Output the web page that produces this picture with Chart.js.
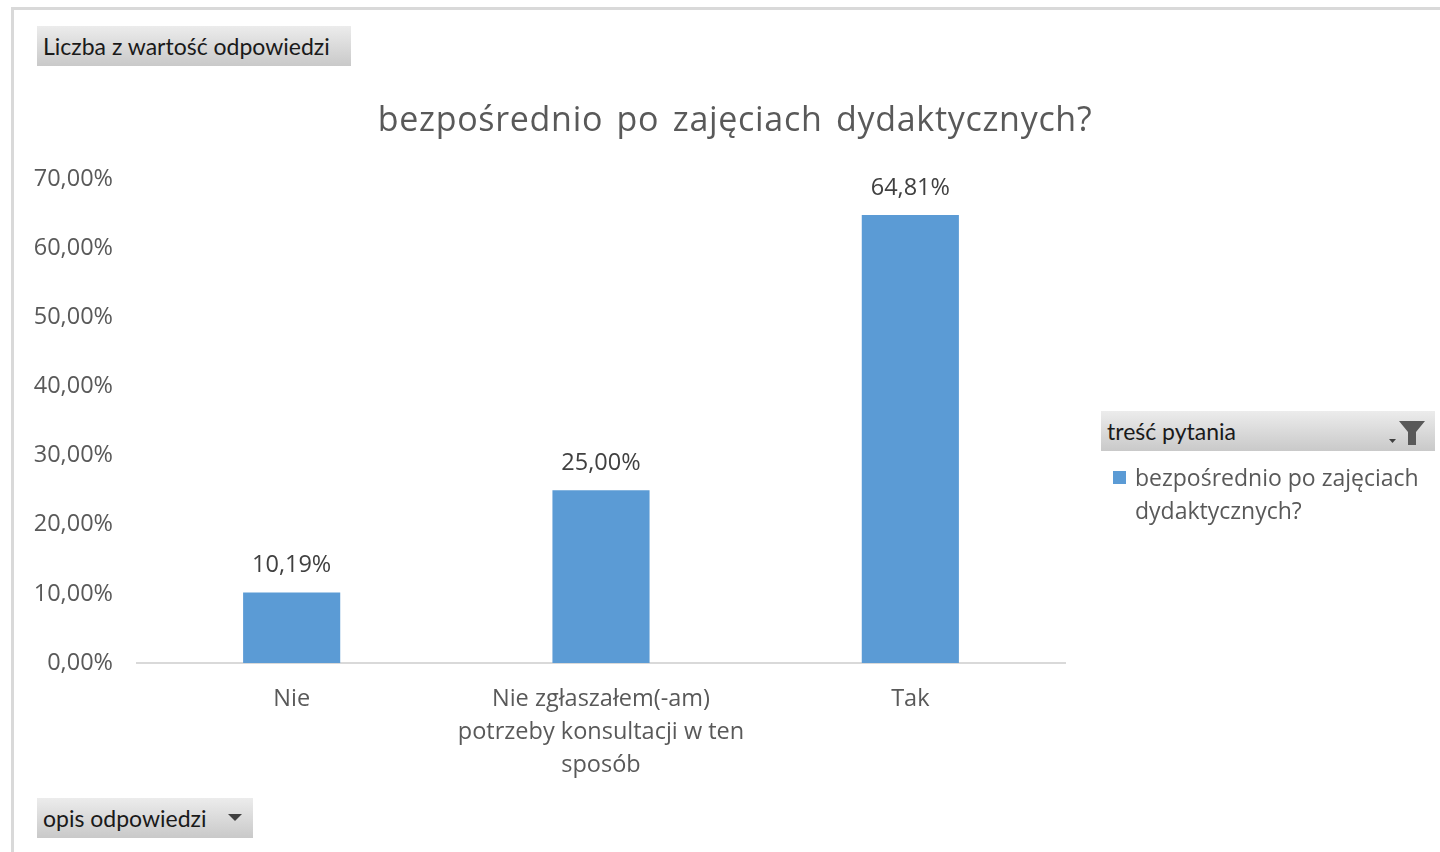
<!DOCTYPE html>
<html>
<head>
<meta charset="utf-8">
<script src="https://cdn.jsdelivr.net/npm/chart.js@4"></script>
<style>
  html, body { margin: 0; padding: 0; background: #fff; }
  body { width: 1440px; height: 852px; position: relative; overflow: hidden; font-family: "Open Sans", sans-serif; }
  #frame { position: absolute; left: 11px; top: 7px; right: -10px; bottom: -10px; border-left: 3px solid #d9d9d9; border-top: 3px solid #d9d9d9; }
  canvas { position: absolute; left: 0; top: 0; }
  .btn { position: absolute; height: 40px; box-sizing: border-box; background: linear-gradient(#ececec, #c9c9c9); color: #1a1a1a; font-family: Lato, sans-serif; font-size: 23px; line-height: 40px; padding-left: 6px; }
  .title { position: absolute; left: 0; width: 1470px; top: 94px; text-align: center; color: #595959; font-size: 34px; letter-spacing: 0.7px; word-spacing: 4px; line-height: 48px; }
  .legend { position: absolute; left: 1113px; top: 461px; color: #595959; font-size: 23px; line-height: 33px; }
  .legend .sw { position: absolute; left: 0; top: 10px; width: 13px; height: 13px; background: #5b9bd5; }
  .legend .tx { position: absolute; left: 22px; top: 0; white-space: nowrap; }
</style>
</head>
<body>
<div id="frame"></div>
<canvas id="c" width="1440" height="852"></canvas>
<div class="title">bezpośrednio po zajęciach dydaktycznych?</div>
<div class="btn" style="left:37px;top:26px;width:314px;">Liczba z wartość odpowiedzi</div>
<div class="btn" style="left:37px;top:798px;width:216px;">opis odpowiedzi
  <svg style="position:absolute;left:191px;top:16px" width="14" height="8"><polygon points="0,0 14,0 7,7" fill="#404040"/></svg>
</div>
<div class="btn" style="left:1101px;top:411px;width:334px;">treść pytania
  <svg style="position:absolute;left:286px;top:8px" width="42" height="28">
    <polygon points="2,20 9,20 5.5,24" fill="#404040"/>
    <polygon points="12,2 38,2 29,13 29,26 21,26 21,13" fill="#595959"/>
  </svg>
</div>
<div class="legend"><div class="sw"></div><div class="tx">bezpośrednio po zajęciach<br>dydaktycznych?</div></div>
<script>
const categories = ['Nie', ['Nie zgłaszałem(-am)', 'potrzeby konsultacji w ten', 'sposób'], 'Tak'];
const values = [10.19, 25.00, 64.81];
const seriesName = 'bezpośrednio po zajęciach dydaktycznych?';

const fmt = v => v.toFixed(2).replace('.', ',') + '%';

// value labels above each bar
const valueLabels = {
  id: 'valueLabels',
  afterDatasetsDraw(chart) {
    const ctx = chart.ctx;
    const meta = chart.getDatasetMeta(0);
    ctx.save();
    ctx.fillStyle = '#404040';
    ctx.font = '23.5px "Open Sans"';
    ctx.textAlign = 'center';
    ctx.textBaseline = 'middle';
    meta.data.forEach((bar, i) => {
      ctx.fillText(fmt(values[i]), bar.x, bar.y - 27);
    });
    ctx.restore();
  }
};

new Chart(document.getElementById('c'), {
  type: 'bar',
  data: {
    labels: categories,
    datasets: [{
      label: seriesName,
      data: values,
      backgroundColor: '#5b9bd5',
      categoryPercentage: 1,
      barPercentage: 0.314,
    }],
  },
  options: {
    responsive: false,
    animation: false,
    layout: { padding: { left: 0, right: 375, top: 179, bottom: 0 } },
    plugins: {
      legend: { display: false },
      tooltip: { enabled: false },
    },
    scales: {
      x: {
        grid: { display: false, drawTicks: false },
        border: { color: '#d9d9d9', width: 2 },
        ticks: { color: '#595959', font: { family: 'Open Sans', size: 23.5, lineHeight: 1.4 }, padding: 20, maxRotation: 0, autoSkip: false },
        afterFit: s => { s.height = 189; },
      },
      y: {
        min: 0,
        max: 70,
        grid: { display: false, drawTicks: false },
        border: { display: false },
        ticks: { stepSize: 10, color: '#595959', font: { family: 'Open Sans', size: 23.5 }, padding: 24, callback: v => fmt(v) },
        afterFit: s => { s.width = 137; },
      },
    },
  },
  plugins: [valueLabels],
});
</script>
</body>
</html>
